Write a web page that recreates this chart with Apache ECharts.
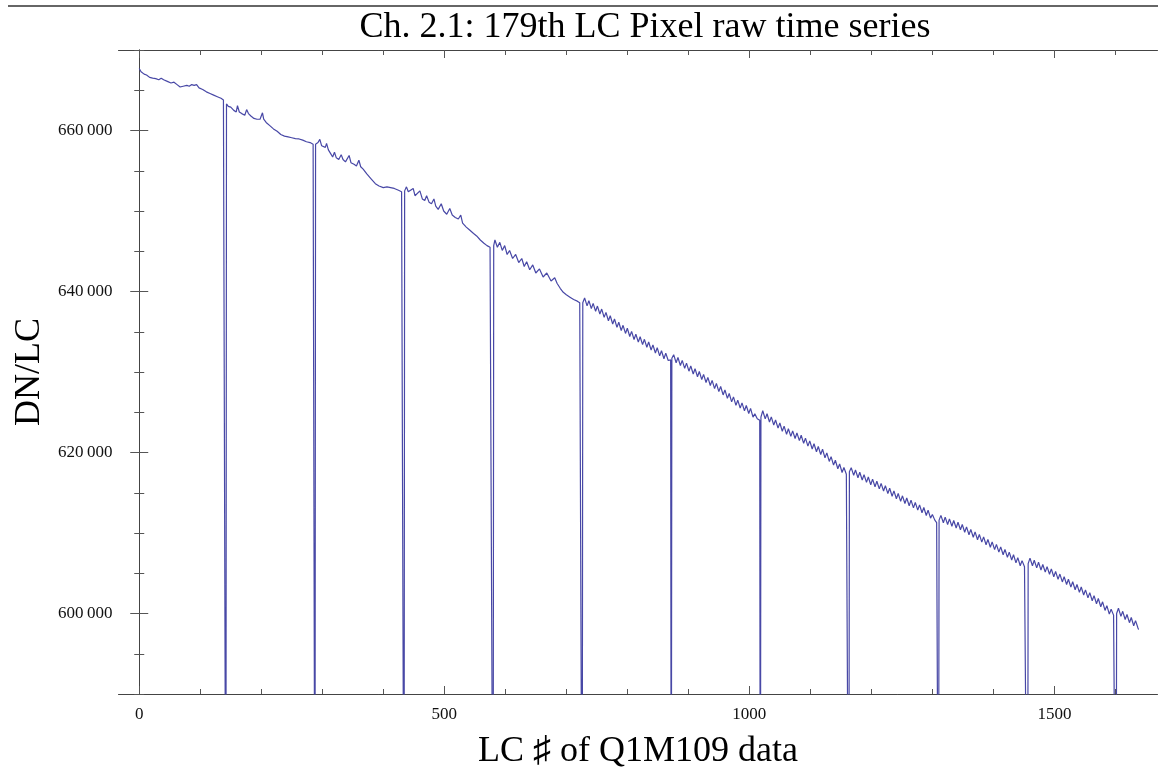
<!DOCTYPE html>
<html>
<head>
<meta charset="utf-8">
<script src="https://cdn.jsdelivr.net/npm/echarts@6/dist/echarts.min.js"></script>
<style>
html,body{margin:0;padding:0;background:#fff;}
#chart{width:1158px;height:767px;}
</style>
</head>
<body>
<div id="chart"></div>
<script>
// ---- data: [LC index, DN/LC] ----
var seg0 = [[0,667700],[3,667300],[8,667000],[12,666900],[17,666600],[22,666500],[27,666450],[32,666300],[36,666500],[40,666300],[46,666100],[52,665900],[57,666000],[62,665700],[67,665400],[72,665500],[78,665600],[82,665500],[86,665700],[90,665600],[94,665700],[98,665300],[104,665100],[110,664800],[116,664600],[122,664400],[128,664200],[134,664000],[138,663800],[141,663600]];
var seg1 = [[143,663300],[146,663000],[150,662900],[155,662500],[159,662300],[161,663100],[164,662300],[168,662100],[173,661900],[176,662600],[179,662100],[183,661800],[188,661500],[193,661400],[198,661400],[202,662200],[204,661400],[208,661000],[214,660600],[220,660200],[226,659900],[232,659500],[238,659300],[244,659200],[250,659100],[256,659000],[262,658950],[268,658800],[274,658600],[280,658500],[285,658300],[287,658200]];
var seg2 = [[289,658300],[293,658500],[296,658900],[299,658100],[302,657900],[305,657900],[307,658400],[310,657600],[314,657100],[317,656700],[320,657300],[323,656600],[327,656400],[331,657000],[334,656400],[338,656100],[341,656000],[344,656900],[347,656000],[352,655800],[356,655600],[360,656300],[363,655500],[367,655200],[373,654600],[380,654000],[387,653400],[393,653100],[400,652900],[406,653000],[412,652900],[418,652800],[424,652600],[430,652400],[433,652300]];
var seg3 = [[435,652500],[438,653000],[441,652400],[444,652300],[449,652800],[452,651900],[455,651700],[460,652500],[464,651500],[468,651300],[471,651900],[475,651100],[479,650900],[483,651500],[486,650600],[490,650200],[495,650900],[499,650000],[504,649600],[509,650300],[513,649500],[518,649200],[523,649000],[527,649500],[530,648500],[536,648000],[542,647600],[548,647200],[553,646900],[559,646400],[565,646000],[570,645700],[575,645500],[578,645400]];
var seg4 = [[581,645700],[583,646400],[587,645500],[591,646100],[595,645100],[599,645700],[603,644600],[607,645100],[612,644100],[617,644600],[622,643600],[627,644100],[631,643100],[635,643700],[640,642700],[645,643300],[650,642300],[656,642800],[662,641800],[668,642300],[675,641300],[681,641700],[685,641000],[690,640400],[695,639900],[700,639600],[706,639300],[712,639000],[718,638800],[722,638600],[725,638500]];
var seg5 = [[727,638600],[730,639200],[734,638210],[737,638860],[741,637870],[744,638530],[748,637540],[751,638190],[755,637200],[758,637820],[762,636790],[765,637410],[769,636370],[772,636990],[776,635960],[779,636580],[783,635540],[786,636180],[790,635160],[793,635800],[797,634790],[800,635430],[804,634410],[807,635050],[811,634040],[814,634710],[818,633720],[821,634380],[825,633400],[828,634060],[832,633070],[835,633730],[839,632730],[842,633370],[846,632360],[849,633010],[853,632000],[856,632640],[860,631640],[863,632350],[867,631430],[870,631600],[871,631500]];
var seg6 = [[873,631700],[876,632150],[880,631150],[883,631800],[887,630800],[890,631450],[894,630450],[897,631100],[901,630100],[904,630750],[908,629750],[911,630410],[915,629410],[918,630060],[922,629060],[925,629710],[929,628690],[932,629330],[936,628320],[939,628960],[943,627940],[946,628580],[950,627570],[953,628200],[957,627150],[960,627770],[964,626720],[967,627330],[971,626290],[974,626910],[978,625860],[981,626500],[985,625510],[988,626170],[992,625180],[995,625840],[999,624850],[1002,625480],[1006,624400],[1009,624800],[1013,624200],[1016,624050],[1017,624000]];
var seg7 = [[1019,624400],[1022,625190],[1026,624180],[1029,624810],[1033,623790],[1036,624430],[1040,623410],[1043,624040],[1047,623030],[1050,623660],[1054,622640],[1057,623280],[1061,622260],[1064,622950],[1068,622000],[1071,622690],[1075,621740],[1078,622430],[1082,621480],[1085,622140],[1089,621140],[1092,621790],[1096,620790],[1099,621440],[1103,620440],[1106,621090],[1110,620090],[1113,620740],[1117,619750],[1120,620400],[1124,619340],[1127,619950],[1131,618890],[1134,619490],[1138,618430],[1141,619040],[1145,617980],[1148,618580],[1152,617520],[1155,618130],[1159,617300],[1162,617200]];
var seg8 = [[1164,617600],[1167,618120],[1171,617160],[1174,617830],[1178,616870],[1181,617540],[1185,616580],[1188,617250],[1192,616290],[1195,616960],[1199,616000],[1202,616690],[1206,615740],[1209,616430],[1213,615480],[1216,616170],[1220,615220],[1223,615880],[1227,614900],[1230,615560],[1234,614570],[1237,615230],[1241,614250],[1244,614910],[1248,613930],[1251,614620],[1255,613660],[1258,614350],[1262,613390],[1265,614080],[1269,613120],[1272,613810],[1276,612840],[1279,613500],[1283,612510],[1286,613170],[1290,612180],[1293,612840],[1297,611850],[1300,612300],[1304,611600],[1307,611300],[1309,611200]];
var seg9 = [[1311,611600],[1314,612190],[1318,611270],[1321,611980],[1325,611050],[1328,611760],[1332,610840],[1335,611550],[1339,610620],[1342,611330],[1346,610400],[1349,611060],[1353,610090],[1356,610760],[1360,609780],[1363,610450],[1367,609470],[1370,610140],[1374,609160],[1377,609830],[1381,608860],[1384,609520],[1388,608540],[1391,609210],[1395,608230],[1398,608900],[1402,607930],[1405,608590],[1409,607620],[1412,608280],[1416,607300],[1419,607960],[1423,606970],[1426,607630],[1430,606640],[1433,607300],[1437,606290],[1440,606940],[1444,605930],[1447,606570],[1451,605800],[1454,605700]];
var seg10 = [[1457,606200],[1460,606880],[1464,605930],[1467,606620],[1471,605670],[1474,606360],[1478,605400],[1481,606090],[1485,605140],[1488,605830],[1492,604880],[1495,605550],[1499,604560],[1502,605230],[1506,604240],[1509,604900],[1513,603920],[1516,604580],[1520,603600],[1523,604260],[1527,603280],[1530,603940],[1534,602950],[1537,603610],[1541,602630],[1544,603290],[1548,602300],[1551,602940],[1555,601940],[1558,602590],[1562,601580],[1565,602220],[1569,601210],[1572,601860],[1576,600840],[1579,601450],[1583,600380],[1586,600980],[1590,599920],[1593,600520],[1597,599800],[1600,599700]];
var seg11 = [[1602,600000],[1605,600660],[1609,599640],[1612,600270],[1616,599250],[1619,599880],[1623,598860],[1626,599500],[1630,598480],[1633,599110],[1637,598200],[1638,598000]];
// dropouts (values fall far below the plotted range)
var spikeX = [142,288,434,580,726,872,1018,1163,1310,1456,1601];
var spikeY = [560000,560000,560000,560000,560000,560000,560000,560000,560000,560000,560000];

// tick values
var xMajorTicks = [0,500,1000,1500];
var xMinorTicks = [0,100,200,300,400,500,600,700,800,900,1000,1100,1200,1300,1400,1500,1600];
var yMajorTicks = [600000,620000,640000,660000];
var yMinorTicks = [590000,595000,600000,605000,610000,615000,620000,625000,630000,635000,640000,645000,650000,655000,660000,665000,670000];

var titleText = 'Ch. 2.1: 179th LC Pixel raw time series';
var xName = 'LC \u266F of Q1M109 data';
var yName = 'DN/LC';

// ---- build series data ----
var pts = [].concat(seg0,seg1,seg2,seg3,seg4,seg5,seg6,seg7,seg8,seg9,seg10,seg11);
for (var i = 0; i < spikeX.length; i++) pts.push([spikeX[i], spikeY[i]]);
pts.sort(function(a,b){return a[0]-b[0];});

var FONT = '"Liberation Serif","Times New Roman",serif';
var axisColor = '#444';
var tickColor = '#555';

function yFmt(v){ var s = String(v); return s.slice(0,-3) + '\u2009' + s.slice(-3); }
function xFmt(v){ return String(v); }

function xAx(pos, lineShow, ticks, len, labels, extra){
  var a = {
    type:'value', position:pos, min:-34, max:1669,
    axisLine:{show:lineShow, lineStyle:{color:axisColor, width:1}},
    axisTick:{show:true, inside:true, length:len, customValues:ticks, lineStyle:{color:tickColor, width:1}},
    axisLabel:{show:!!labels},
    splitLine:{show:false}
  };
  if (labels) a.axisLabel = {show:true, customValues:labels, margin:12, color:'#111', fontFamily:FONT, fontSize:17, formatter:xFmt};
  if (extra) for (var k in extra) a[k] = extra[k];
  return a;
}
function yAx(pos, lineShow, ticks, len, labels, extra){
  var a = {
    type:'value', position:pos, min:590000, max:670000,
    axisLine:{show:lineShow, lineStyle:{color:axisColor, width:1}},
    axisTick:{show:true, inside:true, length:len, customValues:ticks, lineStyle:{color:tickColor, width:1}},
    axisLabel:{show:!!labels},
    splitLine:{show:false}
  };
  if (labels) a.axisLabel = {show:true, customValues:labels, margin:6, color:'#111', fontFamily:FONT, fontSize:17, formatter:yFmt};
  if (extra) for (var k in extra) a[k] = extra[k];
  return a;
}

var chart = echarts.init(document.getElementById('chart'), null, {renderer:'canvas'});
chart.setOption({
  backgroundColor:'#fff',
  animation:false,
  title:{
    text:titleText, left:640, top:5, textAlign:'center',
    textStyle:{fontFamily:FONT, fontSize:36, fontWeight:'normal', color:'#000'}
  },
  graphic:[{type:'line', shape:{x1:8,y1:6,x2:1158,y2:6}, style:{stroke:'#333', lineWidth:1.5}, silent:true}],
  grid:{left:118.5, right:0.5, top:50, bottom:73, containLabel:false, outerBoundsMode:'none'},
  xAxis:[
    xAx('bottom', true, xMinorTicks, 5, null),
    xAx('bottom', false, xMajorTicks, 8, xMajorTicks, {name:xName, nameLocation:'middle', nameGap:40, nameTextStyle:{fontFamily:FONT, fontSize:36, color:'#000'}}),
    xAx('top', true, xMinorTicks, 5, null),
    xAx('top', false, xMajorTicks, 8, null)
  ],
  yAxis:[
    yAx('left', true, yMinorTicks, 5, null),
    yAx('left', false, yMajorTicks, 9, yMajorTicks, {name:yName, nameLocation:'middle', nameRotate:90, nameGap:68, nameTextStyle:{fontFamily:FONT, fontSize:36, color:'#000'}}),
    yAx('right', true, yMinorTicks, 5, null),
    yAx('right', false, yMajorTicks, 9, null)
  ],
  series:[{
    type:'line', xAxisIndex:0, yAxisIndex:0, data:pts,
    showSymbol:false, symbol:'none', clip:true, sampling:null,
    lineStyle:{color:'#4848a6', width:1.2},
    silent:true
  }]
});
</script>
</body>
</html>
